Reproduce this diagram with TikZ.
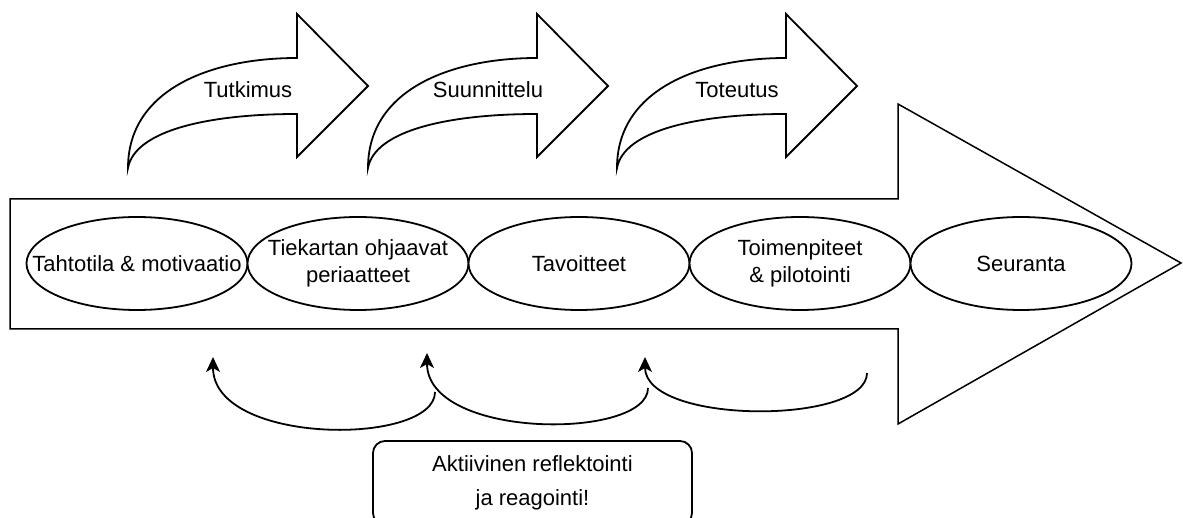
\documentclass[tikz,border=0pt]{standalone}
\usepackage{fontspec}
\setmainfont{Liberation Sans}
\usetikzlibrary{shapes,arrows.meta}
\tikzstyle{el}=[ellipse,draw=black,line width=1.8pt,fill=white,minimum width=221pt,minimum height=93pt,inner sep=0pt]
\tikzstyle{bent}=[line width=1.8pt,line join=miter,fill=white]
\tikzstyle{back}=[line width=1.8pt,-{Stealth[length=15pt,width=14pt,inset=4pt]}]

\begin{document}
\begin{tikzpicture}[x=1pt,y=-1pt,font=\fontsize{22}{27.5}\selectfont]
\useasboundingbox (0,0) rectangle (1183,518);
% big arrow
\draw[line width=1.5pt,line join=miter] (10,199) -- (898,199) -- (898,104) -- (1181,263) -- (898,424) -- (898,329) -- (10,329) -- cycle;
% phases on top
\foreach \dx/\nm/\txt in {0/tut/Tutkimus,240/suu/Suunnittelu,489/tot/Toteutus}{
\draw[bent] (128+\dx,168) .. controls (128+\dx,90) and (210+\dx,58) .. (297+\dx,58) -- (297+\dx,14) -- (368+\dx,86) -- (297+\dx,157) -- (297+\dx,114) .. controls (210+\dx,114) and (135+\dx,130) .. (128+\dx,168) -- cycle;
\node (\nm) at (248+\dx,90) {\txt};
}
% steps
\node[el,label={[align=center,font=\fontsize{22}{27.5}\selectfont]center:Tahtotila \& motivaatio}] (tah) at (137,263.5) {};
\node[el,label={[align=center,font=\fontsize{22}{27.5}\selectfont]center:Tiekartan ohjaavat\\periaatteet}] (tie) at (358,263.5) {};
\node[el,label={[align=center,font=\fontsize{22}{27.5}\selectfont]center:Tavoitteet}] (tav) at (579,263.5) {};
\node[el,label={[align=center,font=\fontsize{22}{27.5}\selectfont]center:Toimenpiteet\\\& pilotointi}] (toi) at (800,263.5) {};
\node[el,label={[align=center,font=\fontsize{22}{27.5}\selectfont]center:Seuranta}] (seu) at (1021,263.5) {};
% feedback loops
\coordinate (b1s) at (435,392); \coordinate (b1e) at (213,357);
\coordinate (b2s) at (648,388); \coordinate (b2e) at (427,353);
\coordinate (b3s) at (867,373); \coordinate (b3e) at (645,357);
\draw[back] (b1s) .. controls +(0,54) and +(0,89) .. (b1e);
\draw[back] (b2s) .. controls +(0,52) and +(0,87) .. (b2e);
\draw[back] (b3s) .. controls +(0,52) and +(0,68) .. (b3e);
\node[draw,line width=1.8pt,rounded corners=12pt,minimum width=319pt,minimum height=84pt,align=center,font=\fontsize{22}{34}\selectfont] (akt) at (532.5,483) {Aktiivinen reflektointi\\ja reagointi!};
\end{tikzpicture}
\end{document}
